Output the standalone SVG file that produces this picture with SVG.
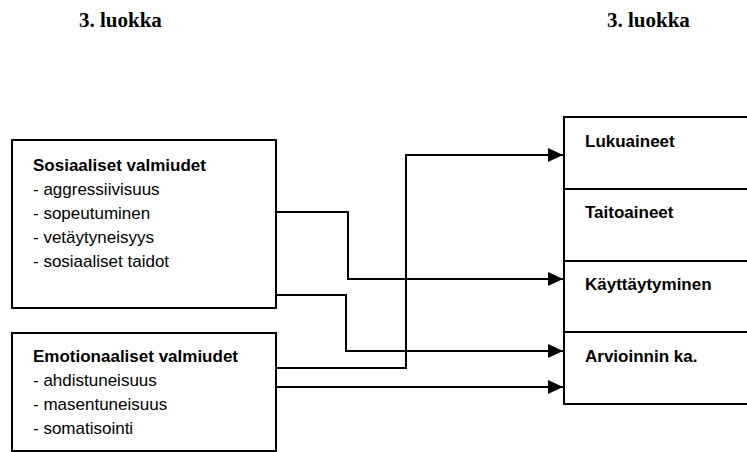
<svg xmlns="http://www.w3.org/2000/svg" width="747" height="452" viewBox="0 0 747 452">
  <style>
    .box { fill: #fff; stroke: #000; stroke-width: 2; }
    .title { font-family: "Liberation Serif", "Times New Roman", serif; font-weight: bold; font-size: 21px; fill: #000; }
    .head { font-family: "Liberation Sans", Arial, sans-serif; font-weight: bold; font-size: 17px; fill: #000; }
    .item { font-family: "Liberation Sans", Arial, sans-serif; font-size: 17px; fill: #000; }
    .wire { fill: none; stroke: #000; stroke-width: 2; marker-end: url(#arrow); }
  </style>
  <defs>
    <marker id="arrow" markerWidth="15" markerHeight="14" refX="15" refY="7" orient="auto" markerUnits="userSpaceOnUse">
      <path d="M0,0 L15,7 L0,14 Z" fill="#000"/>
    </marker>
  </defs>
  <rect width="747" height="452" fill="#fff"/>

  <!-- column titles -->
  <text class="title" x="79" y="27">3. luokka</text>
  <text class="title" x="607" y="27">3. luokka</text>

  <!-- social skills -->
  <g id="sosiaaliset">
    <rect class="box" x="12" y="140" width="264" height="168"/>
    <text class="head" x="33" y="171">Sosiaaliset valmiudet</text>
    <text class="item" x="33" y="195">- aggressiivisuus</text>
    <text class="item" x="33" y="219">- sopeutuminen</text>
    <text class="item" x="33" y="243">- vetäytyneisyys</text>
    <text class="item" x="33" y="267">- sosiaaliset taidot</text>
  </g>

  <!-- emotional skills -->
  <g id="emotionaaliset">
    <rect class="box" x="12" y="333" width="264" height="118"/>
    <text class="head" x="33" y="362">Emotionaaliset valmiudet</text>
    <text class="item" x="33" y="386">- ahdistuneisuus</text>
    <text class="item" x="33" y="410">- masentuneisuus</text>
    <text class="item" x="33" y="434">- somatisointi</text>
  </g>

  <!-- outcome column -->
  <g id="lukuaineet">
    <rect class="box" x="564" y="117" width="200" height="72"/>
    <text class="head" x="585" y="147">Lukuaineet</text>
  </g>
  <g id="taitoaineet">
    <rect class="box" x="564" y="189" width="200" height="72"/>
    <text class="head" x="585" y="218">Taitoaineet</text>
  </g>
  <g id="kayttaytyminen">
    <rect class="box" x="564" y="261" width="200" height="71"/>
    <text class="head" x="585" y="290">Käyttäytyminen</text>
  </g>
  <g id="arvioinnin">
    <rect class="box" x="564" y="332" width="200" height="72"/>
    <text class="head" x="585" y="362">Arvioinnin ka.</text>
  </g>

  <!-- connectors -->
  <g id="connectors">
    <path class="wire" d="M276,212 H348 V279 H563"/>
    <path class="wire" d="M276,295 H346 V351 H563"/>
    <path class="wire" d="M276,368 H406 V155 H563"/>
    <path class="wire" d="M276,387 H563"/>
  </g>
</svg>
